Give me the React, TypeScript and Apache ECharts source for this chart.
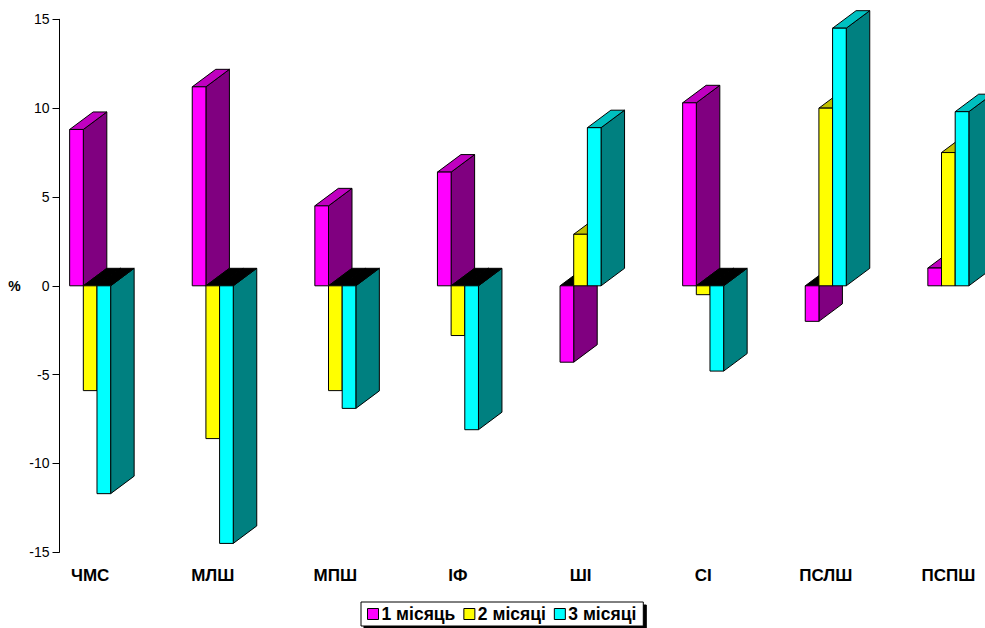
import React, { useEffect, useRef } from "react";
import * as echarts from "echarts";

// Categories along the x axis
const categories = ["ЧМС", "МЛШ", "МПШ", "ІФ", "ШІ", "СІ", "ПСЛШ", "ПСПШ"];

// Series names
const seriesNames = ["1 місяць", "2 місяці", "3 місяці"];

// Change, %, per period
const month1 = [8.8, 11.2, 4.5, 6.4, -4.3, 10.3, -2.0, 1.0];
const month2 = [-5.9, -8.6, -5.9, -2.8, 2.9, -0.5, 10.0, 7.5];
const month3 = [-11.7, -14.5, -6.9, -8.1, 8.9, -4.8, 14.5, 9.8];

// Y axis range and step
const yMin = -15;
const yMax = 15;
const yStep = 5;

// Face colours: front, top, side
const palettes = [
  { front: "#FF00FF", top: "#C000C0", side: "#800080" },
  { front: "#FFFF00", top: "#C0C000", side: "#808000" },
  { front: "#00FFFF", top: "#00C0C0", side: "#008080" },
];

const FONT = 'Arial, "Liberation Sans", sans-serif';
const GRID_LEFT = 59.5;
const BAND_PX = 122.6; // width of one category band
const X_MIN = -0.25;
const X_MAX = X_MIN + (985 - GRID_LEFT) / BAND_PX; // plot runs to the page edge
const BAR_RATIO = 0.1115; // front face width as a share of one category band
const DEPTH_X = 23.5;
const DEPTH_Y = -17.5;

function makeRenderItem(sIdx: number) {
  const pal = palettes[sIdx];
  return (params: any, api: any) => {
    const ci = api.value(0);
    const v = api.value(1);
    const band = api.size([1, 0])[0];
    const w = band * BAR_RATIO;
    const base = api.coord([ci, 0]);
    const yZero = base[1];
    const yV = api.coord([ci, v])[1];
    const x0 = base[0] - 1.5 * w + sIdx * w;
    const x1 = x0 + w;
    const stroke = { stroke: "#000", lineWidth: 1 };
    const positive = v >= 0;
    const yTopFace = positive ? yV : yZero;
    const sideTop = positive ? yV : yZero;
    const sideBottom = positive ? yZero : yV;
    return {
      type: "group",
      children: [
        {
          type: "polygon",
          shape: {
            points: [
              [x1, sideTop],
              [x1 + DEPTH_X, sideTop + DEPTH_Y],
              [x1 + DEPTH_X, sideBottom + DEPTH_Y],
              [x1, sideBottom],
            ],
          },
          style: { fill: pal.side, ...stroke },
        },
        {
          type: "polygon",
          shape: {
            points: [
              [x0, yTopFace],
              [x1, yTopFace],
              [x1 + DEPTH_X, yTopFace + DEPTH_Y],
              [x0 + DEPTH_X, yTopFace + DEPTH_Y],
            ],
          },
          style: { fill: positive ? pal.top : "#000", ...stroke },
        },
        {
          type: "rect",
          shape: {
            x: x0,
            y: Math.min(yZero, yV),
            width: w,
            height: Math.abs(yV - yZero),
          },
          style: { fill: pal.front, ...stroke },
        },
      ],
    };
  };
}

export default function App() {
  const ref = useRef<HTMLDivElement>(null);

  useEffect(() => {
    if (!ref.current) return;
    const chart = echarts.init(ref.current, undefined, { renderer: "svg" });
    const values = [month1, month2, month3];
    chart.setOption({
      animation: false,
      backgroundColor: "#fff",
      grid: { left: GRID_LEFT, top: 19.3, bottom: 75.7, right: 0 },
      xAxis: {
        type: "value",
        min: X_MIN,
        max: X_MAX,
        axisLine: { show: false, onZero: false },
        axisTick: { show: false },
        splitLine: { show: false },
        axisLabel: {
          customValues: categories.map((_, i) => i),
          formatter: (val: number) => categories[Math.round(val)] ?? "",
          color: "#000",
          fontFamily: FONT,
          fontWeight: "bold",
          fontSize: 17,
          margin: 15,
        },
      },
      yAxis: {
        type: "value",
        min: yMin,
        max: yMax,
        interval: yStep,
        name: "%",
        nameLocation: "middle",
        nameRotate: 0,
        nameGap: 45,
        nameTextStyle: {
          color: "#000",
          fontFamily: FONT,
          fontWeight: "bold",
          fontSize: 14,
          align: "center",
          verticalAlign: "middle",
        },
        axisLine: { show: true, onZero: false, lineStyle: { color: "#000", width: 1 } },
        axisTick: { show: true, length: 7, lineStyle: { color: "#000" } },
        splitLine: { show: false },
        axisLabel: { color: "#000", fontFamily: FONT, fontSize: 14, margin: 10 },
      },
      legend: {
        left: 361,
        top: 602,
        padding: [3, 7, 3, 6],
        itemWidth: 11,
        itemHeight: 11,
        itemGap: 8,
        backgroundColor: "#fff",
        borderColor: "#000",
        borderWidth: 1,
        shadowColor: "#000",
        shadowBlur: 0,
        shadowOffsetX: 3,
        shadowOffsetY: 3,
        textStyle: { color: "#000", fontFamily: FONT, fontWeight: "bold", fontSize: 17.5, padding: [0, 0, 0, -2] },
        data: seriesNames.map((n) => ({
          name: n,
          icon: "rect",
          itemStyle: { borderColor: "#000", borderWidth: 1 },
        })),
      },
      series: values.map((arr, s) => ({
        type: "custom",
        name: seriesNames[s],
        clip: false,
        itemStyle: { color: palettes[s].front },
        encode: { x: 0, y: 1 },
        renderItem: makeRenderItem(s),
        data: arr.map((v, i) => [i, v]),
      })),
    });
    return () => chart.dispose();
  }, []);

  return <div ref={ref} style={{ width: 985, height: 628, position: "absolute", left: 0, top: 0 }} />;
}
